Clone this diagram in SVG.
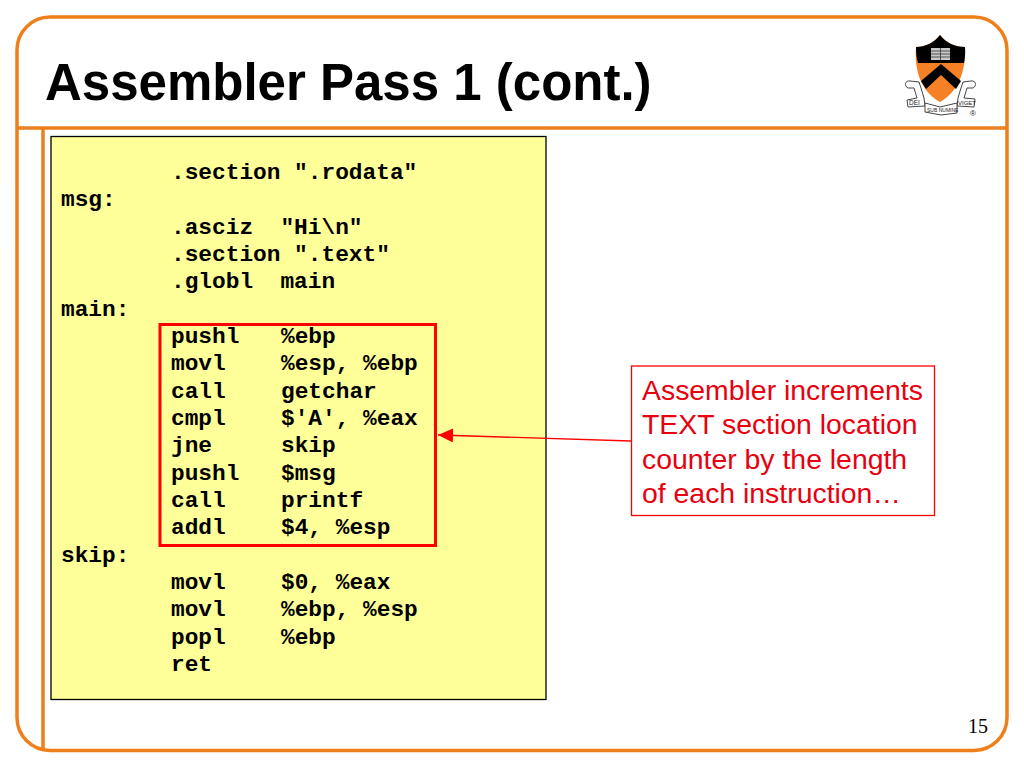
<svg xmlns="http://www.w3.org/2000/svg" width="1024" height="768" viewBox="0 0 1024 768">
<style>
.o{fill:none;stroke:#ee7f1a;stroke-width:3.5}
.c{font-family:"Liberation Mono",monospace;font-weight:700;font-size:22.8px;fill:#000;white-space:pre}
.s{font-family:"Liberation Sans",Arial,sans-serif;font-size:28.400px;fill:#e8000f}
.l{fill:#fff;stroke:#444;stroke-width:1}
</style>
<defs>
<marker id="arr" markerUnits="userSpaceOnUse" markerWidth="16" markerHeight="14" refX="15" refY="7" orient="auto"><path d="M0 0L15 7L0 14Z" fill="#f00"/></marker>
</defs>
<rect width="1024" height="768" fill="#fff"/>
<g id="frame">
<rect class="o" x="17" y="17" width="990" height="733.500" rx="33" ry="33"/>
<path class="o" d="M17 128H1007M43 128V750"/>
</g>
<text id="title" x="45" y="100" font-family="'Liberation Sans',Arial,sans-serif" font-weight="700" font-size="51px" fill="#000">Assembler Pass 1 (cont.)</text>
<g id="logo">
<path d="M916 47C925 47 934 43 940 35C946 43 955 47 965 47C966 72 958 92 940 102C922 92 914 72 916 47Z" fill="#f58025"/>
<path d="M916 47C925 47 934 43 940 35C946 43 955 47 965 47C965.500 53 965 58 964 63L918 63C916.500 58 916 53 916 47Z" fill="#000"/>
<path d="M921 81L941 64L961 81L956 89L941 75L926 89Z" fill="#000"/>
<rect x="931" y="48" width="19" height="12" fill="#c8c8c8"/>
<path d="M931 54H950M940.500 48V60M931 51H950M931 57H950" stroke="#333" stroke-width="0.800"/>
<path class="l" d="M910 81C905 80 904 86 908 88L914 88L917 98L907 100L908 107L925 106L924 98L921 88L919 82Z"/>
<path class="l" d="M971 81C976 80 977 86 973 88L967 88L964 98L975 99L974 107L957 106L958 98L961 88L963 82Z"/>
<path class="l" d="M925 103L940 107L957 103L957 113L941 115L925 112Z"/>
<g font-family="'Liberation Sans',Arial,sans-serif" fill="#222">
<text x="909" y="105" font-size="6.500px">DEI</text>
<text x="927" y="112" font-size="5px">SUB NUMINE</text>
<text x="958" y="105" font-size="6px">VIGET</text>
<text x="970" y="116" font-size="8px">®</text>
</g>
</g>
<g id="code-box">
<rect x="51" y="136.500" width="495" height="563" fill="#ffff99" stroke="#000" stroke-width="1.300"/>
<g class="c">
<text class="c" x="171" y="179">.section ".rodata"</text>
<text class="c" x="61" y="206">msg:</text>
<text class="c" x="171" y="234">.asciz  "Hi\n"</text>
<text class="c" x="171" y="261">.section ".text"</text>
<text class="c" x="171" y="288">.globl  main</text>
<text class="c" x="61" y="316">main:</text>
<text class="c" x="171" y="343">pushl</text><text class="c" x="281" y="343">%ebp</text>
<text class="c" x="171" y="370">movl</text><text class="c" x="281" y="370">%esp, %ebp</text>
<text class="c" x="171" y="398">call</text><text class="c" x="281" y="398">getchar</text>
<text class="c" x="171" y="425">cmpl</text><text class="c" x="281" y="425">$'A', %eax</text>
<text class="c" x="171" y="452">jne</text><text class="c" x="281" y="452">skip</text>
<text class="c" x="171" y="480">pushl</text><text class="c" x="281" y="480">$msg</text>
<text class="c" x="171" y="507">call</text><text class="c" x="281" y="507">printf</text>
<text class="c" x="171" y="534">addl</text><text class="c" x="281" y="534">$4, %esp</text>
<text class="c" x="61" y="562">skip:</text>
<text class="c" x="171" y="589">movl</text><text class="c" x="281" y="589">$0, %eax</text>
<text class="c" x="171" y="616">movl</text><text class="c" x="281" y="616">%ebp, %esp</text>
<text class="c" x="171" y="644">popl</text><text class="c" x="281" y="644">%ebp</text>
<text class="c" x="171" y="671">ret</text>
</g>
</g>
<g id="highlight">
<rect x="160" y="324.500" width="275.500" height="221" fill="none" stroke="#f00" stroke-width="3"/>
</g>
<g id="callout">
<rect x="631.500" y="366" width="303" height="149.500" fill="#fff" stroke="#f00" stroke-width="1.300"/>
<text class="s" x="642" y="400">Assembler increments</text>
<text class="s" x="642" y="434">TEXT section location</text>
<text class="s" x="642" y="469">counter by the length</text>
<text class="s" x="642" y="503">of each instruction…</text>
</g>
<g id="connectors">
<path d="M631 441L438 435" stroke="#f00" stroke-width="1.300" fill="none" marker-end="url(#arr)"/>
</g>
<text id="page" x="968" y="733" font-family="'Liberation Serif',serif" font-size="20px" fill="#000">15</text>
</svg>
